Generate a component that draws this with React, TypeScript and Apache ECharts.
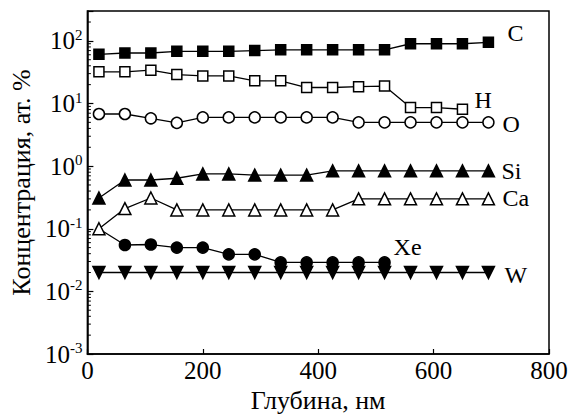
import React, { useEffect, useRef } from "react";
import * as echarts from "echarts";

const DEPTH = [20, 65, 110, 155, 200, 245, 290, 335, 380, 425, 470, 515, 560, 605, 650, 695];
const C_VALUES = [61, 64, 64, 68, 68, 68, 70, 72, 72, 72, 72, 72, 90, 90, 90, 95];
const H_VALUES = [32, 32, 34, 29, 27.6, 27.6, 23, 23, 18, 18, 18.6, 19, 8.6, 8.6, 8.1];
const O_VALUES = [6.8, 6.8, 5.8, 4.9, 6, 6, 6, 6, 6, 6, 5, 5, 5, 5, 5, 5];
const SI_VALUES = [0.31, 0.6, 0.6, 0.64, 0.75, 0.75, 0.72, 0.72, 0.72, 0.84, 0.84, 0.84, 0.84, 0.84, 0.84, 0.84];
const CA_VALUES = [0.1, 0.21, 0.31, 0.2, 0.2, 0.2, 0.2, 0.2, 0.2, 0.2, 0.3, 0.3, 0.3, 0.3, 0.3, 0.3];
const XE_VALUES = [0.1, 0.055, 0.056, 0.05, 0.05, 0.039, 0.039, 0.029, 0.029, 0.029, 0.029, 0.029];
const W_VALUES = [0.02, 0.02, 0.02, 0.02, 0.02, 0.02, 0.02, 0.02, 0.02, 0.02, 0.02, 0.02, 0.02, 0.02, 0.02, 0.02];

const X_TICKS = [0, 200, 400, 600, 800];
const Y_DECADES = [-3, -2, -1, 0, 1, 2];
const Y_MIN = 0.001;
const Y_MAX = 300;

const FONT = "Liberation Serif";

function minorTicks(): number[] {
  const out: number[] = [];
  for (const d of Y_DECADES) {
    for (let m = 2; m <= 9; m++) {
      const v = m * Math.pow(10, d);
      if (v < Y_MAX) out.push(v);
    }
  }
  return out;
}

export default function App() {
  const ref = useRef<HTMLDivElement>(null);
  useEffect(() => {
    document.body.style.margin = "0";
    const chart = echarts.init(ref.current!, null, { renderer: "svg" });
    const pairs = (vals: number[]) => vals.map((v, i) => [DEPTH[i], v]);
    const base = {
      type: "line",
      lineStyle: { color: "#000", width: 1.3 },
      itemStyle: { color: "#000", borderColor: "#000", borderWidth: 1.5 },
      z: 3,
    };
    const endLabel = (name: string, ox: number, oy: number) => ({
      show: true,
      formatter: name,
      color: "#000",
      fontFamily: FONT,
      fontSize: 24,
      offset: [ox, oy],
    });
    chart.setOption({
      animation: false,
      textStyle: { fontFamily: FONT },
      grid: { left: 87, top: 11, right: 27, bottom: 65, show: true, borderColor: "#000", borderWidth: 1.5, backgroundColor: "transparent" },
      xAxis: {
        type: "value",
        min: 0,
        max: 800,
        interval: 200,
        name: "Глубина, нм",
        nameLocation: "middle",
        nameGap: 33,
        nameTextStyle: { color: "#000", fontFamily: FONT, fontSize: 26 },
        axisLine: { show: true, lineStyle: { color: "#000", width: 1.5 } },
        axisTick: { show: true, inside: true, length: 5, lineStyle: { color: "#000", width: 1.2 } },
        axisLabel: { color: "#000", fontFamily: FONT, fontSize: 25, margin: 4, formatter: (v: number) => (X_TICKS.includes(v) ? String(v) : "") },
        splitLine: { show: false },
      },
      yAxis: {
        type: "log",
        logBase: 10,
        min: Y_MIN,
        max: Y_MAX,
        name: "Концентрация, ат. %",
        nameLocation: "middle",
        nameGap: 52,
        nameTextStyle: { color: "#000", fontFamily: FONT, fontSize: 26 },
        axisLine: { show: true, lineStyle: { color: "#000", width: 1.5 } },
        axisTick: { show: true, inside: true, length: 6, lineStyle: { color: "#000", width: 1.2 } },
        axisLabel: {
          color: "#000",
          fontFamily: FONT,
          fontSize: 25,
          margin: 5,
          formatter: (v: number) => {
            const l = Math.log10(v);
            const e = Math.round(l);
            if (Math.abs(l - e) > 1e-6 || !Y_DECADES.includes(e)) return "";
            return "{base|10}{sup|" + e + "}";
          },
          rich: {
            base: { fontFamily: FONT, fontSize: 25, color: "#000" },
            sup: { fontFamily: FONT, fontSize: 15, color: "#000", verticalAlign: "top", padding: [0, 0, 12, 0] },
          },
        },
        splitLine: { show: false },
      },
      series: [
        {
          type: "custom",
          coordinateSystem: "cartesian2d",
          silent: true,
          z: 10,
          data: minorTicks().map((v) => [0, v]),
          encode: { x: 0, y: 1 },
          renderItem: (params: any, api: any) => {
            const p = api.coord([0, api.value(1)]);
            return {
              type: "line",
              shape: { x1: p[0], y1: p[1], x2: p[0] + 3.5, y2: p[1] },
              style: { stroke: "#000", lineWidth: 1 },
            };
          },
        },
        { ...base, name: "W", data: pairs(W_VALUES), symbol: "triangle", symbolRotate: 180, symbolSize: 12, endLabel: endLabel("W", 8, 2) },
        {
          ...base,
          name: "Xe",
          data: XE_VALUES.map((v, i) => (i === 0 ? { value: [DEPTH[i], v], symbol: "none" } : [DEPTH[i], v])),
          symbol: "circle",
          symbolSize: 11,
          endLabel: endLabel("Xe", 1, -15),
        },
        { ...base, name: "Ca", data: pairs(CA_VALUES), symbol: "triangle", symbolSize: 12, itemStyle: { color: "#fff", borderColor: "#000", borderWidth: 1.5 }, endLabel: endLabel("Ca", 6, -1) },
        { ...base, name: "Si", data: pairs(SI_VALUES), symbol: "triangle", symbolSize: 12, endLabel: endLabel("Si", 5, 0) },
        { ...base, name: "O", data: pairs(O_VALUES), symbol: "circle", symbolSize: 11, itemStyle: { color: "#fff", borderColor: "#000", borderWidth: 1.5 }, endLabel: endLabel("O", 6, 2) },
        { ...base, name: "H", data: pairs(H_VALUES), symbol: "rect", symbolSize: 10, itemStyle: { color: "#fff", borderColor: "#000", borderWidth: 1.5 }, endLabel: endLabel("H", 4, -9) },
        { ...base, name: "C", data: pairs(C_VALUES), symbol: "rect", symbolSize: 10, endLabel: endLabel("C", 11, -9) },
      ],
    });
    return () => chart.dispose();
  }, []);
  return <div ref={ref} style={{ width: 576, height: 419 }} />;
}
